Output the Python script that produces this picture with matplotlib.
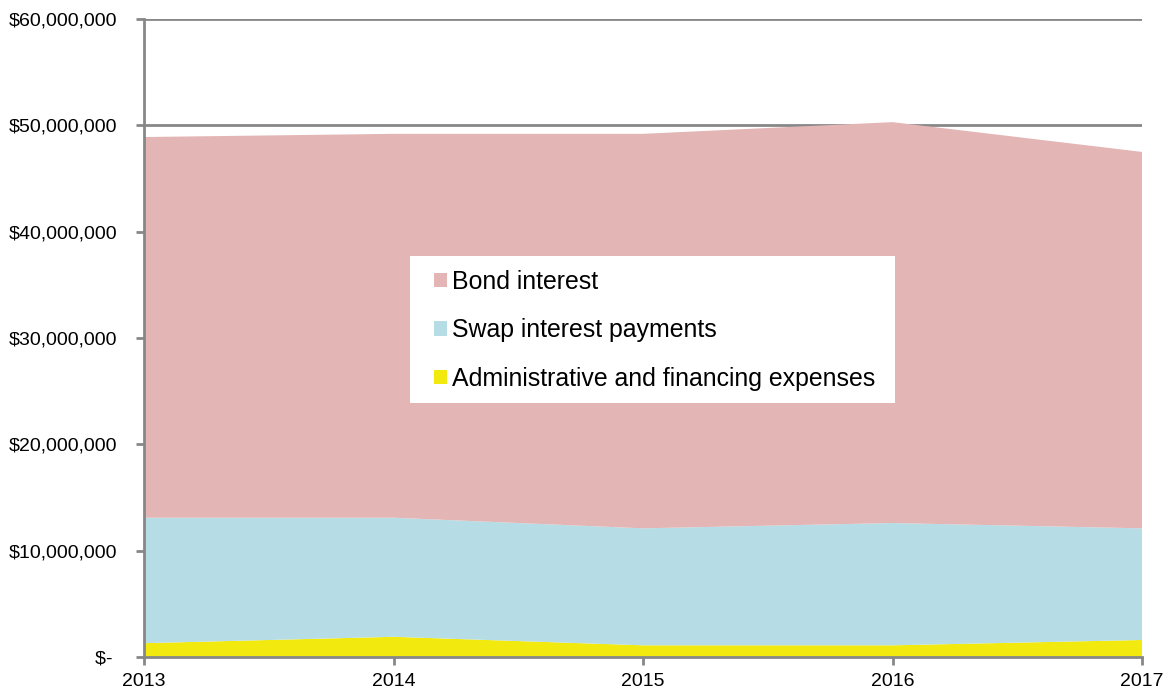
import matplotlib.pyplot as plt
from matplotlib.patches import Patch, Rectangle
from matplotlib.ticker import FuncFormatter

plt.rcParams["font.family"] = ["Liberation Sans", "DejaVu Sans"]

# ------------------------
# Data (annual, $)
# ------------------------
years = [2013, 2014, 2015, 2016, 2017]
admin_fin = [1_300_000, 1_900_000, 1_100_000, 1_100_000, 1_600_000]
swap_interest = [11_800_000, 11_200_000, 11_000_000, 11_500_000, 10_500_000]
bond_interest = [35_800_000, 36_100_000, 37_100_000, 37_700_000, 35_400_000]

labels = ["Administrative and financing expenses", "Swap interest payments", "Bond interest"]
colors = ["#F2EA0E", "#B6DDE6", "#E3B5B4"]
grey = "#878787"

W, H = 1169, 690
fig = plt.figure(figsize=(W / 100, H / 100), dpi=100)
ax = fig.add_axes([144 / W, 1 - 657 / H, (1142 - 144) / W, (657 - 19) / H])

ax.stackplot(years, admin_fin, swap_interest, bond_interest, colors=colors,
             linewidth=0, zorder=2)

ax.set_xlim(2013, 2017)
ax.set_ylim(0, 60_000_000)
ax.set_xticks(years)
ax.set_yticks(range(0, 60_000_001, 10_000_000))


def money(v, pos):
    if v == 0:
        return "$- "
    return f"${v:,.0f}"


ax.yaxis.set_major_formatter(FuncFormatter(money))
ax.yaxis.grid(True, color=grey, linewidth=2.0, zorder=1)
ax.set_axisbelow(True)

for side in ["top", "right"]:
    ax.spines[side].set_visible(False)
for side in ["left", "bottom"]:
    ax.spines[side].set_color(grey)
    ax.spines[side].set_linewidth(2.0)
    ax.spines[side].set_zorder(3)

ax.tick_params(axis="y", length=6, width=2.0, color=grey, labelsize=14, pad=13)
ax.tick_params(axis="x", length=6, width=2.0, color=grey, labelsize=14, pad=5.5)

# White legend box
fig.patches.append(Rectangle((410 / W, 1 - 403 / H), (895 - 410) / W, (403 - 256) / H,
                             transform=fig.transFigure, facecolor="white",
                             edgecolor="none", zorder=5))

# Legend, top-down like the stack
handles = [Patch(facecolor=c, edgecolor="none") for c in colors]
leg = fig.legend(handles[::-1], labels[::-1],
                 loc="upper left", bbox_to_anchor=(434 / W, 1 - 270 / H),
                 fontsize=17.9, frameon=False,
                 handlelength=0.52, handleheight=0.52, handletextpad=0.2,
                 labelspacing=0.98, borderpad=0, borderaxespad=0)
leg.set_zorder(6)

fig.savefig("out.png", dpi=100)
